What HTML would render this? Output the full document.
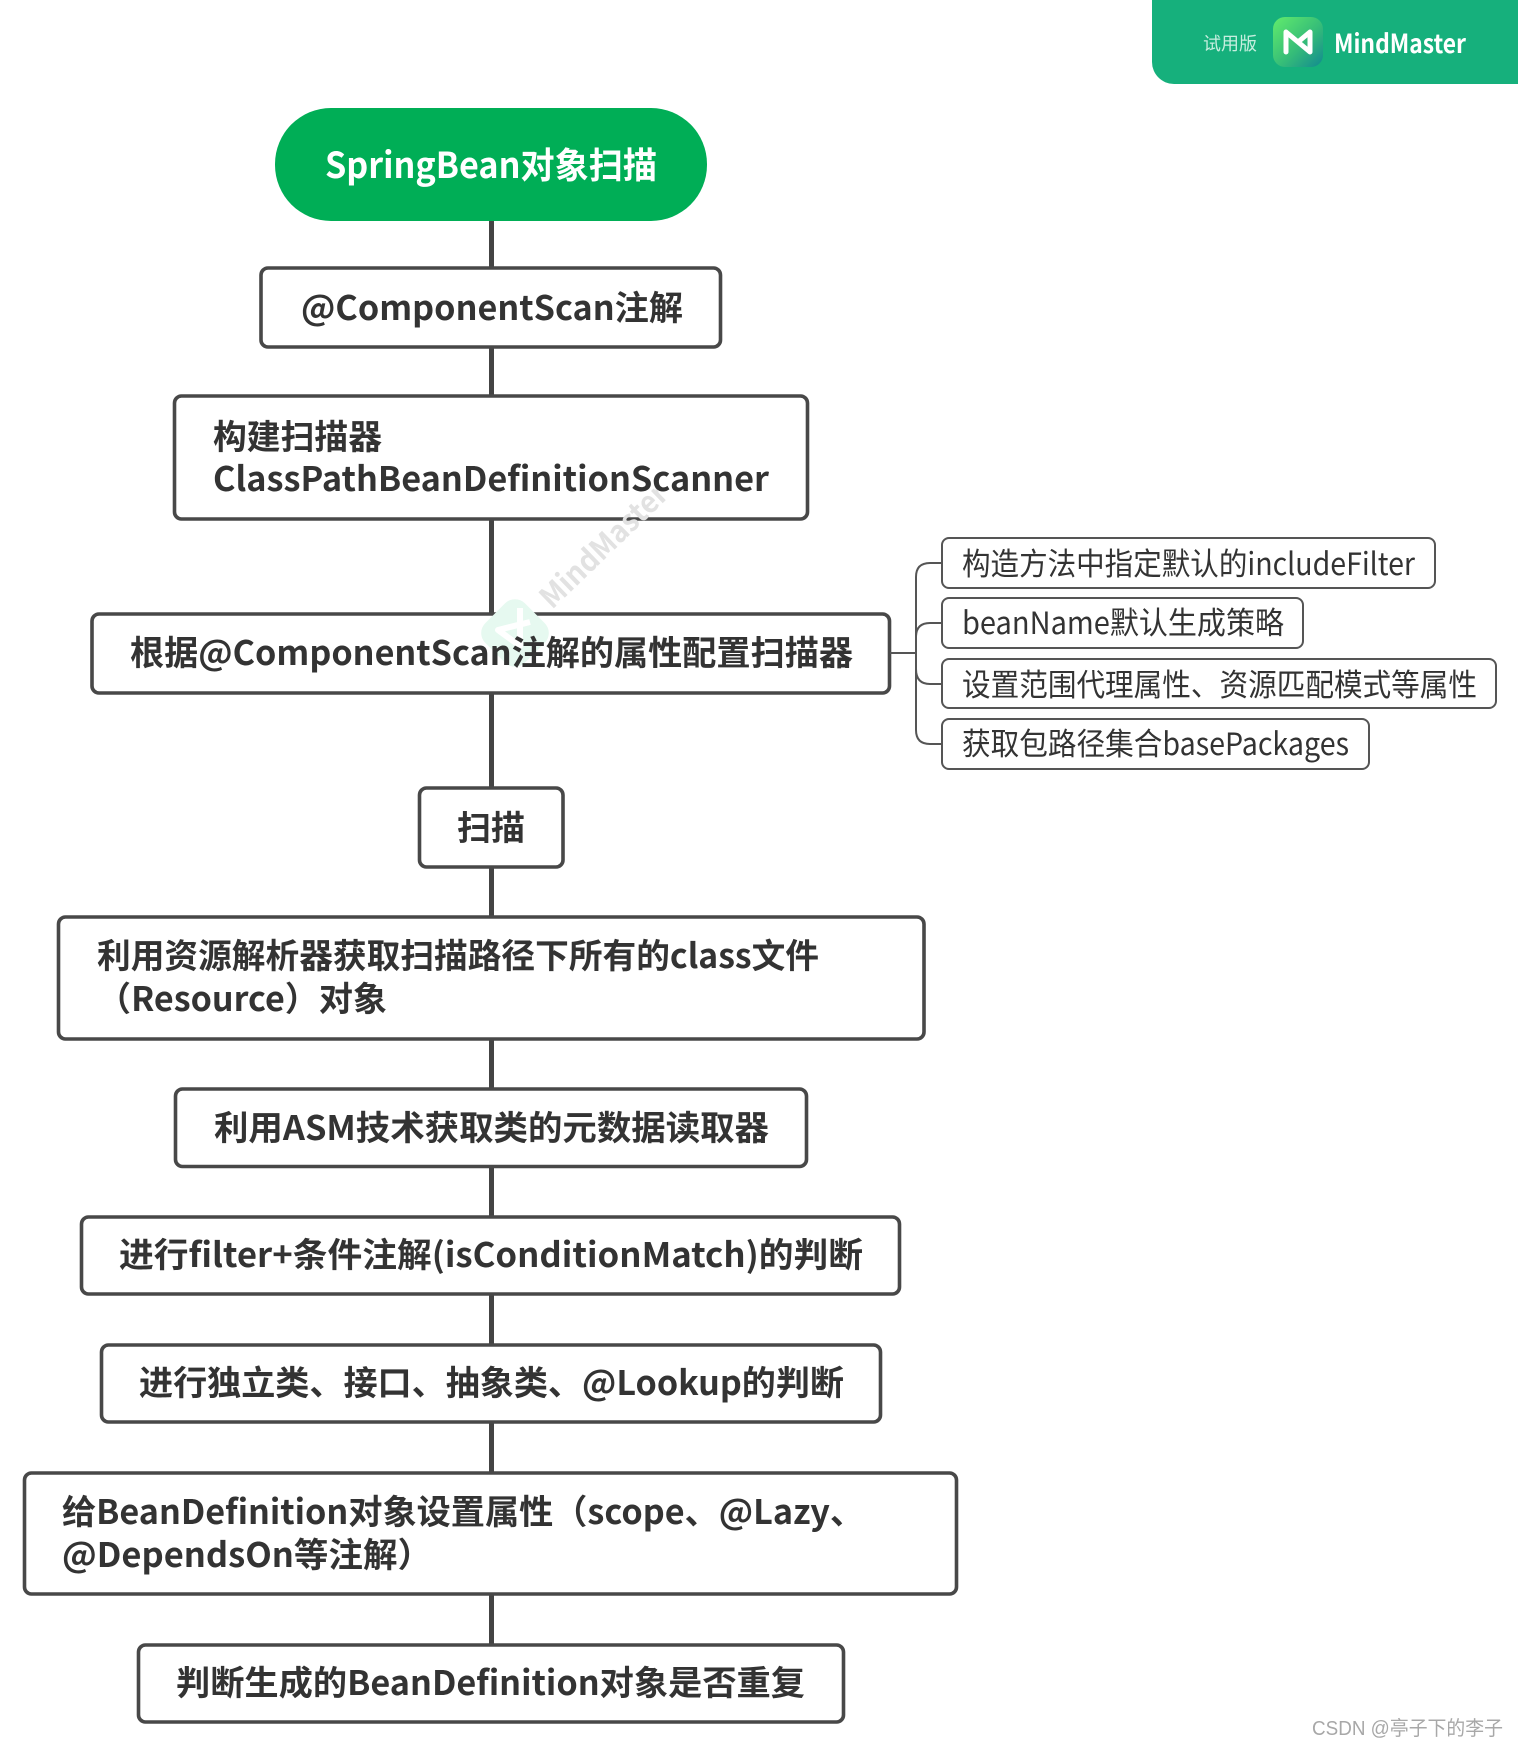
<!DOCTYPE html>
<html><head><meta charset="utf-8"><style>
html,body{margin:0;padding:0;background:#fff}
svg{display:block}
.m{font:700 34px "Noto Sans CJK SC","Liberation Sans",sans-serif;fill:#333}
.s{font:400 31px "Noto Sans CJK SC","Liberation Sans",sans-serif;fill:#333}
.b{fill:#fff;stroke:#484848;stroke-width:3.6}
.c{fill:#fff;stroke:#555;stroke-width:2}
</style></head><body>
<svg width="1518" height="1747" viewBox="0 0 1518 1747" xmlns="http://www.w3.org/2000/svg">
<defs><linearGradient id="g" x1="0" y1="0" x2="1" y2="1"><stop offset="0" stop-color="#62ec6c"/><stop offset=".55" stop-color="#36bd78"/><stop offset="1" stop-color="#118a90"/></linearGradient></defs>
<rect width="1518" height="1747" fill="#fff"/>

<path d="M1152 0H1518V84H1174A22 22 0 0 1 1152 62Z" fill="#16b07c"/>
<text x="1203" y="50" font-size="18" textLength="54" lengthAdjust="spacingAndGlyphs" fill="#c6eedf" font-family="'Noto Sans CJK SC',sans-serif">试用版</text>
<rect x="1273" y="17" width="50" height="50" rx="12" fill="url(#g)"/>
<path d="M1286 52V32L1298 42L1310 32V52L1286 32" fill="none" stroke="#fff" stroke-width="5" stroke-linecap="round" stroke-linejoin="round"/>
<text x="1334" y="53" font-size="26" font-weight="700" textLength="132" lengthAdjust="spacingAndGlyphs" fill="#fff" font-family="'Noto Sans CJK SC',sans-serif">MindMaster</text>

<line x1="491.5" y1="200" x2="491.5" y2="1660" stroke="#444" stroke-width="5"/>

<rect x="275" y="108" width="432" height="113" rx="56" fill="#00ae56"/>
<rect class="b" x="261" y="268" width="459.5" height="79" rx="7"/>
<rect class="b" x="174.5" y="396" width="633" height="123" rx="7"/>
<rect class="b" x="92" y="614" width="797.5" height="79" rx="7"/>
<rect class="b" x="419.5" y="788" width="143.5" height="79" rx="7"/>
<rect class="b" x="58.5" y="917" width="865.5" height="122" rx="7"/>
<rect class="b" x="175.5" y="1089" width="631" height="77.5" rx="7"/>
<rect class="b" x="81.5" y="1217" width="818" height="77" rx="7"/>
<rect class="b" x="101.5" y="1345" width="779" height="77" rx="7"/>
<rect class="b" x="24.5" y="1473" width="932" height="121" rx="7"/>
<rect class="b" x="138.5" y="1645" width="705" height="77" rx="7"/>

<g>
<rect x="487" y="605" width="56" height="56" rx="14" transform="rotate(45 515 633)" fill="#e6f9f0"/>
<path d="M520 608V646L498 630L530 622" fill="none" stroke="#fff" stroke-width="6" stroke-linejoin="round"/>
</g>
<text transform="translate(552 610) rotate(-44)" font-size="30" font-weight="700" textLength="164" lengthAdjust="spacingAndGlyphs" fill="#e2e2e2" font-family="'Noto Sans CJK SC',sans-serif">MindMaster</text>

<path d="M890 653H916" fill="none" stroke="#555" stroke-width="2"/>
<path d="M941 563H930Q916 563 916 577V730Q916 744 930 744H941" fill="none" stroke="#555" stroke-width="2"/>
<path d="M941 623H930Q916 623 916 637" fill="none" stroke="#555" stroke-width="2"/>
<path d="M916 669Q916 684 930 684H941" fill="none" stroke="#555" stroke-width="2"/>
<rect class="c" x="942" y="538" width="493" height="50" rx="7"/>
<rect class="c" x="942" y="598" width="361" height="50" rx="7"/>
<rect class="c" x="942" y="659" width="554" height="49" rx="7"/>
<rect class="c" x="942" y="719" width="427" height="50" rx="7"/>

<text x="325" y="178" textLength="332" lengthAdjust="spacingAndGlyphs" style="font:700 36px 'Noto Sans CJK SC',sans-serif;fill:#fff">SpringBean对象扫描</text>
<text class="m" x="301" y="320" textLength="382" lengthAdjust="spacingAndGlyphs">@ComponentScan注解</text>
<text class="m" x="213" y="449" textLength="169" lengthAdjust="spacingAndGlyphs">构建扫描器</text>
<text class="m" x="213" y="491" textLength="556" lengthAdjust="spacingAndGlyphs">ClassPathBeanDefinitionScanner</text>
<text class="m" x="130" y="665" textLength="723" lengthAdjust="spacingAndGlyphs">根据@ComponentScan注解的属性配置扫描器</text>
<text class="m" x="457" y="840" textLength="68" lengthAdjust="spacingAndGlyphs">扫描</text>
<text class="m" x="97" y="968" textLength="722" lengthAdjust="spacingAndGlyphs">利用资源解析器获取扫描路径下所有的class文件</text>
<text class="m" x="97" y="1011" textLength="290" lengthAdjust="spacingAndGlyphs">（Resource）对象</text>
<text class="m" x="214" y="1140" textLength="555" lengthAdjust="spacingAndGlyphs">利用ASM技术获取类的元数据读取器</text>
<text class="m" x="119" y="1267" textLength="744" lengthAdjust="spacingAndGlyphs">进行filter+条件注解(isConditionMatch)的判断</text>
<text class="m" x="139" y="1395" textLength="705" lengthAdjust="spacingAndGlyphs">进行独立类、接口、抽象类、@Lookup的判断</text>
<text class="m" x="62" y="1524" textLength="802" lengthAdjust="spacingAndGlyphs">给BeanDefinition对象设置属性（scope、@Lazy、</text>
<text class="m" x="62" y="1567" textLength="370" lengthAdjust="spacingAndGlyphs">@DependsOn等注解）</text>
<text class="m" x="176" y="1695" textLength="629" lengthAdjust="spacingAndGlyphs">判断生成的BeanDefinition对象是否重复</text>

<text class="s" x="962" y="575" textLength="453" lengthAdjust="spacingAndGlyphs">构造方法中指定默认的includeFilter</text>
<text class="s" x="962" y="634" textLength="322" lengthAdjust="spacingAndGlyphs">beanName默认生成策略</text>
<text class="s" x="962" y="696" textLength="515" lengthAdjust="spacingAndGlyphs">设置范围代理属性、资源匹配模式等属性</text>
<text class="s" x="962" y="755" textLength="387" lengthAdjust="spacingAndGlyphs">获取包路径集合basePackages</text>

<text x="1312" y="1735" font-size="20" textLength="191" lengthAdjust="spacingAndGlyphs" fill="#a8a8a8" font-family="'Liberation Sans','Noto Sans CJK SC',sans-serif">CSDN @亭子下的李子</text>
</svg>
</body></html>
